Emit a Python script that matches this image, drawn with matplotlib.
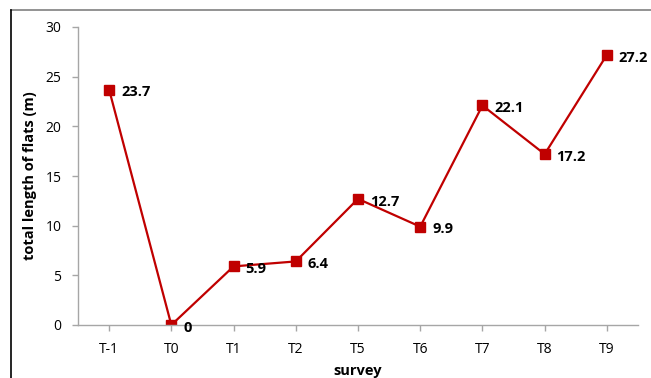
import matplotlib
matplotlib.use("Agg")
import matplotlib.pyplot as plt
from matplotlib.lines import Line2D

surveys = ['T-1', 'T0', 'T1', 'T2', 'T5', 'T6', 'T7', 'T8', 'T9']
flat_length = [23.7, 0, 5.9, 6.4, 12.7, 9.9, 22.1, 17.2, 27.2]
value_labels = ['23.7', '0', '5.9', '6.4', '12.7', '9.9', '22.1', '17.2', '27.2']
yticks = [0, 5, 10, 15, 20, 25, 30]

plt.rcParams['font.family'] = ['Open Sans', 'DejaVu Sans']
red = '#C00000'
axis_grey = '#A6A6A6'

fig = plt.figure(figsize=(6.51, 3.78), dpi=100)
ax = fig.add_axes([78/651, 1 - 325/378, 560/651, 298/378])

x = list(range(len(surveys)))
ax.plot(x, flat_length, color=red, lw=1.6, marker='s', ms=7, mfc=red, mec=red)

for xi, yi, lab in zip(x, flat_length, value_labels):
    ax.annotate(lab, (xi, yi), xytext=(8.5, -2), textcoords='offset points',
                ha='left', va='center', fontsize=10.5, fontweight='bold')

ax.set_xlim(-0.5, 8.5)
ax.set_ylim(0, 30)
ax.set_xticks(x)
ax.set_xticklabels(surveys)
ax.set_yticks(yticks)

for s in ['top', 'right']:
    ax.spines[s].set_visible(False)
for s in ['left', 'bottom']:
    ax.spines[s].set_color(axis_grey)
    ax.spines[s].set_linewidth(1)
ax.tick_params(axis='both', colors=axis_grey, labelcolor='black', labelsize=10, length=4, width=1)
ax.tick_params(axis='x', pad=8)
ax.tick_params(axis='y', pad=8)

ax.set_xlabel('survey', fontsize=10.5, fontweight='bold', labelpad=5)
ax.set_ylabel('total length of flats (m)', fontsize=10.5, fontweight='bold', labelpad=6)

# chart border pieces
fig.add_artist(Line2D([11/651, 1], [1 - 10/378, 1 - 10/378], color='#808080', lw=1.2, transform=fig.transFigure))
fig.add_artist(Line2D([11/651, 11/651], [0, 1 - 10/378], color='black', lw=1.2, transform=fig.transFigure))

fig.savefig('out.png', dpi=100)
